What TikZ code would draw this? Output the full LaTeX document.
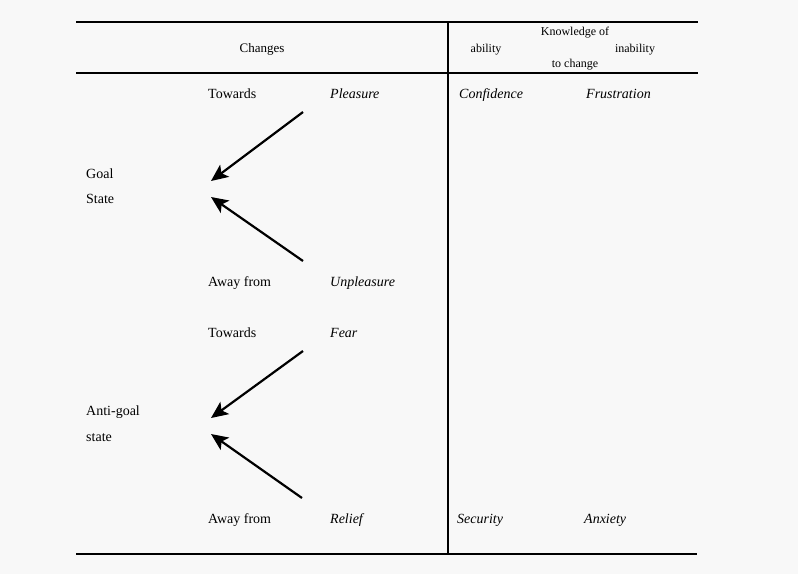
\documentclass[tikz,border=0pt]{standalone}
\usepackage{fontspec}
\setmainfont{Liberation Serif}
\usetikzlibrary{arrows.meta}
\definecolor{paper}{HTML}{F8F8F8}
\tikzset{
  body/.style={anchor=base west, inner sep=0pt, font=\fontsize{14}{16}\selectfont},
  term/.style={body, font=\fontsize{14}{16}\selectfont\itshape},
  head/.style={anchor=base, inner sep=0pt, font=\fontsize{12}{14}\selectfont},
  rule/.style={line width=1.4pt},
  change/.style={line width=2.2pt, -{Stealth[length=17pt, width=15pt, inset=4pt]}},
}
\begin{document}
\begin{tikzpicture}[x=1pt, y=-1pt]
  \fill[paper] (0,0) rectangle (798,574);
  \useasboundingbox (0,0) rectangle (798,574);

  % table rules
  \coordinate (tl) at (76,22);   \coordinate (tr) at (698,22);
  \coordinate (ml) at (76,73);   \coordinate (mr) at (698,73);
  \coordinate (bl) at (76,554);  \coordinate (br) at (697,554);
  \coordinate (vt) at (448,22);  \coordinate (vb) at (448,554);
  \draw[rule] (tl) -- (tr);
  \draw[rule] (ml) -- (mr);
  \draw[rule] (bl) -- (br);
  \draw[line width=1.8pt] (vt) -- (vb);

  % header
  \node[head, font=\fontsize{13}{15}\selectfont] (changes) at (262,52) {Changes};
  \node[head] (know) at (575,35) {Knowledge of};
  \node[head] (ability) at (486,52) {ability};
  \node[head] (inability) at (635,52) {inability};
  \node[head] (tochange) at (575,67) {to change};

  % goal state block
  \node[body] (tow1) at (208,98) {Towards};
  \node[term] (pleas) at (330,98) {Pleasure};
  \node[term] (conf) at (459,98) {Confidence};
  \node[term] (frus) at (586,98) {Frustration};
  \node[body] (goal) at (86,178) {Goal};
  \node[body] (goal2) at (86,203) {State};
  \node[body] (away1) at (208,286) {Away from};
  \node[term] (unpl) at (330,286) {Unpleasure};

  \coordinate (a1s) at (303,112); \coordinate (a1e) at (211,181);
  \coordinate (a2s) at (303,261); \coordinate (a2e) at (211,197);
  \draw[change] (a1s) -- (a1e);
  \draw[change] (a2s) -- (a2e);

  % anti-goal state block
  \node[body] (tow2) at (208,337) {Towards};
  \node[term] (fear) at (330,337) {Fear};
  \node[body] (anti) at (86,415) {Anti-goal};
  \node[body] (anti2) at (86,441) {state};
  \node[body] (away2) at (208,523) {Away from};
  \node[term] (relief) at (330,523) {Relief};
  \node[term] (secu) at (457,523) {Security};
  \node[term] (anx) at (584,523) {Anxiety};

  \coordinate (a3s) at (303,351); \coordinate (a3e) at (211,418);
  \coordinate (a4s) at (302,498); \coordinate (a4e) at (211,434);
  \draw[change] (a3s) -- (a3e);
  \draw[change] (a4s) -- (a4e);
\end{tikzpicture}
\end{document}
